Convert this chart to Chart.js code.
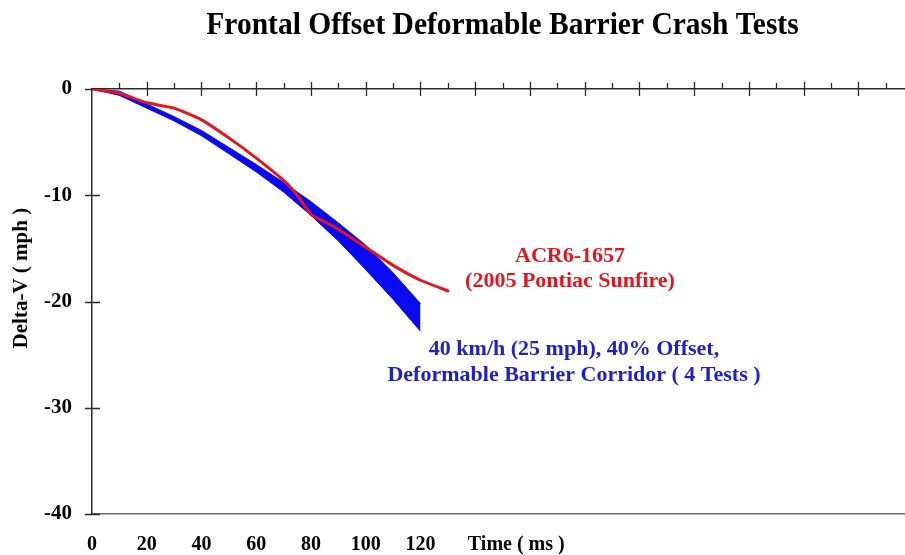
<!DOCTYPE html>
<html>
<head>
<meta charset="utf-8">
<title>Frontal Offset Deformable Barrier Crash Tests</title>
<style>
  html, body { margin: 0; padding: 0; background: #ffffff; }
  #wrap { width: 905px; height: 555px; }
</style>
<script src="https://cdn.jsdelivr.net/npm/chart.js@4.4.1/dist/chart.umd.min.js"></script>
</head>
<body>
<div id="wrap"><canvas id="chart" width="905" height="555"></canvas></div>
<script>
// Delta-V corridor of the four 40 km/h, 40% offset deformable barrier tests (ms, mph)
const corridorTime  = [0, 10, 20, 30, 40, 50, 60, 70, 80, 90, 100, 110, 120];
const corridorUpper = [0, -0.2, -1.4, -2.6, -3.9, -5.5, -7.1, -8.8, -10.6, -12.6, -14.7, -17.3, -20.2];
const corridorLower = [0, -0.6, -1.8, -3.0, -4.4, -6.1, -7.8, -9.7, -11.9, -14.3, -17.0, -19.8, -22.8];

// ACR6-1657, 2005 Pontiac Sunfire (ms, mph)
const sunfireTime   = [0, 10, 20, 30, 40, 50, 60, 70, 75, 80, 88, 100, 110, 120, 130];
const sunfireDeltaV = [0, -0.4, -1.3, -1.8, -2.9, -4.6, -6.5, -8.6, -10.0, -11.8, -12.9, -14.9, -16.6, -18.0, -19.0];

// Axis ticks
const xTickLabels = [0, 20, 40, 60, 80, 100, 120];
const yTickValues = [0, -10, -20, -30, -40];

const SERIF = '"Liberation Serif", "Times New Roman", serif';
const RED = '#e3161f';
const BLUE = '#0a0af0';
const BLUE_TEXT = '#2020c8';
const AXIS = '#2a2a2a';

const pts = (xs, ys) => xs.map((x, i) => ({ x: x, y: ys[i] }));

// Text with a slight vertical stretch, as in the slide the chart comes from
function tallText(ctx, text, x, y, sy) {
  ctx.save();
  ctx.translate(x, y);
  ctx.scale(1, sy);
  ctx.fillText(text, 0, 0);
  ctx.restore();
}

// Tick marks that straddle the axes, plus the free-standing text
const decorations = {
  id: 'decorations',
  beforeDatasetsDraw(chart) {
    const ctx = chart.ctx;
    const xs = chart.scales.x;
    const ys = chart.scales.y;
    const left = xs.getPixelForValue(0);
    const top = ys.getPixelForValue(0);
    ctx.save();
    ctx.strokeStyle = AXIS;
    ctx.lineWidth = 1.3;
    ctx.beginPath();
    yTickValues.forEach(v => {
      const py = Math.round(ys.getPixelForValue(v)) + 0.5;
      ctx.moveTo(left - 7, py);
      ctx.lineTo(left + 8, py);
    });
    for (let t = 10; t < xs.max; t += 10) {
      const px = Math.round(xs.getPixelForValue(t)) + 0.5;
      if (t % 20 === 0) {
        ctx.moveTo(px, top - 7);
        ctx.lineTo(px, top + 7);
      } else {
        ctx.moveTo(px, top - 6);
        ctx.lineTo(px, top);
      }
    }
    ctx.stroke();
    ctx.restore();
  },
  afterDraw(chart) {
    const ctx = chart.ctx;
    const area = chart.chartArea;
    const xs = chart.scales.x;
    const ys = chart.scales.y;
    ctx.save();
    ctx.textAlign = 'center';
    ctx.textBaseline = 'alphabetic';

    // Title
    ctx.fillStyle = '#000000';
    ctx.font = 'bold 29.5px ' + SERIF;
    tallText(ctx, 'Frontal Offset Deformable Barrier Crash Tests', (area.left + area.right) / 2 + 4, 34, 1.08);

    // Axis titles
    ctx.textBaseline = 'middle';
    ctx.font = 'bold 20px ' + SERIF;
    ctx.fillText('Time ( ms )', xs.getPixelForValue(155), 545);
    ctx.save();
    ctx.translate(22, ys.getPixelForValue(-17.8));
    ctx.rotate(-Math.PI / 2);
    ctx.font = 'bold 21px ' + SERIF;
    ctx.fillText('Delta-V ( mph )', 0, 0);
    ctx.restore();

    // Series captions
    ctx.font = 'bold 22px ' + SERIF;
    ctx.fillStyle = RED;
    ctx.fillText('ACR6-1657', 570, 256);
    ctx.fillText('(2005 Pontiac Sunfire)', 570, 281);
    ctx.fillStyle = BLUE_TEXT;
    ctx.fillText('40 km/h (25 mph), 40% Offset,', 574, 349);
    ctx.fillText('Deformable Barrier Corridor ( 4 Tests )', 574, 375);
    ctx.restore();
  }
};

new Chart(document.getElementById('chart'), {
  type: 'line',
  data: {
    datasets: [
      {
        label: 'Corridor upper',
        data: pts(corridorTime, corridorUpper),
        borderColor: BLUE,
        borderWidth: 1,
        pointRadius: 0,
        fill: false,
        tension: 0,
        order: 2
      },
      {
        label: 'Corridor lower',
        data: pts(corridorTime, corridorLower),
        borderColor: BLUE,
        backgroundColor: BLUE,
        borderWidth: 1,
        pointRadius: 0,
        fill: '-1',
        tension: 0,
        order: 2
      },
      {
        label: 'ACR6-1657',
        data: pts(sunfireTime, sunfireDeltaV),
        borderColor: RED,
        borderWidth: 3,
        pointRadius: 0,
        fill: false,
        tension: 0.15,
        borderJoinStyle: 'round',
        borderCapStyle: 'round',
        order: 1
      }
    ]
  },
  options: {
    responsive: false,
    animation: false,
    events: [],
    layout: { padding: { top: 89, right: 0, left: 0, bottom: 0 } },
    plugins: {
      legend: { display: false },
      title: { display: false },
      tooltip: { enabled: false }
    },
    scales: {
      x: {
        type: 'linear',
        position: 'bottom',
        min: 0,
        max: 297,
        afterFit(s) { s.height = 41; s.paddingLeft = 0; s.paddingRight = 0; },
        grid: { drawOnChartArea: false, drawTicks: false },
        border: { display: true, color: '#6f6f6f', width: 1.5 },
        ticks: {
          stepSize: 10,
          autoSkip: false,
          maxRotation: 0,
          padding: 19,
          color: '#000000',
          font: { family: SERIF, size: 20, weight: 'bold' },
          callback: v => (xTickLabels.includes(v) ? String(v) : '')
        }
      },
      xTop: {
        type: 'linear',
        position: 'top',
        min: 0,
        max: 297,
        afterFit(s) { s.height = 0; s.paddingLeft = 0; s.paddingRight = 0; },
        grid: { drawOnChartArea: false, drawTicks: false },
        border: { display: true, color: AXIS, width: 1.5 },
        ticks: { display: false }
      },
      y: {
        type: 'linear',
        position: 'left',
        min: -40,
        max: 0,
        afterFit(s) { s.width = 92; s.paddingTop = 0; s.paddingBottom = 0; },
        grid: { drawOnChartArea: false, drawTicks: false },
        border: { display: true, color: AXIS, width: 1.5 },
        ticks: {
          stepSize: 10,
          padding: 20,
          color: '#000000',
          font: { family: SERIF, size: 21, weight: 'bold' },
          callback: v => (yTickValues.includes(v) ? String(v) : '')
        }
      }
    }
  },
  plugins: [decorations]
});
</script>
</body>
</html>
